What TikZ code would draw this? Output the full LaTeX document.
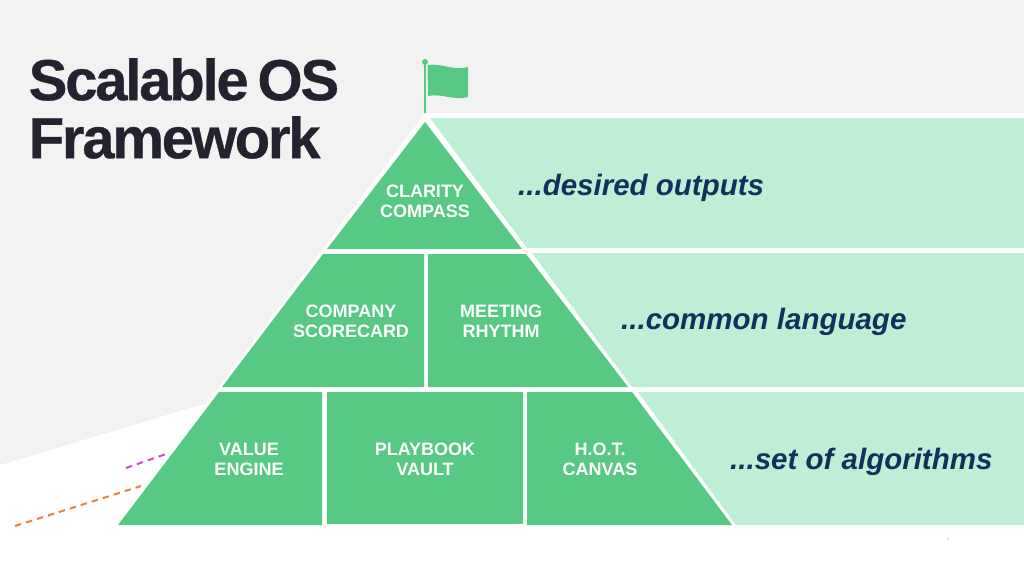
\documentclass[tikz,border=0pt]{standalone}
\usepackage{fontspec}
\setmainfont{Liberation Sans}
\newfontfamily\titlefont[LetterSpace=-3.8, BoldFeatures={FakeBold=0.5}]{Liberation Sans}
\definecolor{tiergreen}{HTML}{57C985}
\definecolor{bandgreen}{HTML}{BDEFD6}
\definecolor{backgray}{HTML}{F2F2F2}
\definecolor{bandnavy}{HTML}{12305C}
\definecolor{titleink}{HTML}{23222E}
\definecolor{dashmagenta}{HTML}{C850B8}
\definecolor{dashorange}{HTML}{F08040}
\tikzstyle{tier}=[fill=tiergreen]
\tikzstyle{band}=[fill=bandgreen]
\tikzstyle{tier label}=[text=white, font=\fontsize{18}{20}\selectfont\bfseries, align=center, inner sep=0]
\tikzstyle{band label}=[text=bandnavy, font=\fontsize{29.5}{32}\selectfont\bfseries\itshape, anchor=west, inner sep=0]
\tikzstyle{title}=[text=titleink, font=\fontsize{58}{58}\selectfont\titlefont\bfseries, align=left, anchor=west, inner sep=0]
\tikzstyle{trail}=[line width=2pt, dash pattern=on 6.5pt off 5pt]

\begin{document}
\begin{tikzpicture}[x=1pt, y=-1pt]
    \useasboundingbox (0, 0) rectangle (1024, 578);
    \fill[white] (0, 0) rectangle (1024, 578);
    \fill[backgray] (0, 0) -- (1024, 0) -- (1024, 113) -- (425, 113)
      -- (206, 403) -- (0, 465) -- cycle;

    % bands behind the pyramid
    \path[band] (430, 118) -- (1024, 118) -- (1024, 248) -- (527, 248) -- cycle;
    \path[band] (532, 253) -- (1024, 253) -- (1024, 387) -- (632, 387) -- cycle;
    \path[band] (638, 392) -- (1024, 392) -- (1024, 525) -- (736, 525) -- cycle;

    % pyramid
    \path[tier] (425, 122) -- (522, 249) -- (327, 249) -- cycle;
    \path[tier] (323, 254) -- (424, 254) -- (424, 387) -- (222, 387) -- cycle;
    \path[tier] (428, 254) -- (526, 254) -- (628, 387) -- (428, 387) -- cycle;
    \path[tier] (219, 392) -- (322, 392) -- (322, 525) -- (118, 525) -- cycle;
    \path[tier] (327, 392) -- (523, 392) -- (523, 524) -- (327, 524) -- cycle;
    \path[tier] (527, 392) -- (632, 392) -- (732, 525) -- (527, 525) -- cycle;

    % flag
    \fill[tier] (423.7, 62) rectangle (426.3, 113);
    \fill[tier] (425, 62) circle (3);
    \fill[tier] (427.5, 65) .. controls (442, 63) and (453, 71) .. (468, 67)
      -- (468, 97) .. controls (453, 101) and (442, 93) .. (428, 96) -- cycle;

    \node[tier label] (clarity) at (425, 201) {CLARITY\\COMPASS};
    \node[tier label] (scorecard) at (351, 321) {COMPANY\\SCORECARD};
    \node[tier label] (rhythm) at (501, 321) {MEETING\\RHYTHM};
    \node[tier label] (value) at (249, 459) {VALUE\\ENGINE};
    \node[tier label] (playbook) at (425, 459) {PLAYBOOK\\VAULT};
    \node[tier label] (canvas) at (600, 459) {H.O.T.\\CANVAS};

    \node[band label] (outputs) at (518, 188) {...desired outputs};
    \node[band label] (language) at (621, 322) {...common language};
    \node[band label] (algorithms) at (730, 462) {...set of algorithms};

    \node[title] (heading) at (28.5, 108.5) {Scalable\hspace{-5pt} OS\\Framework};

    % trails running off to the left
    \coordinate (magenta_a) at (126, 468);
    \coordinate (magenta_b) at (166, 454);
    \coordinate (orange_a) at (15, 526);
    \coordinate (orange_b) at (141, 486);
    \draw[trail, dashmagenta] (magenta_a) -- (magenta_b);
    \draw[trail, dashorange] (orange_a) -- (orange_b);

    \coordinate (speck_a) at (947, 540);
    \coordinate (speck_b) at (949, 538);
    \draw[black!25, line width=0.4pt] (speck_a) -- (speck_b);
  \end{tikzpicture}
\end{document}
